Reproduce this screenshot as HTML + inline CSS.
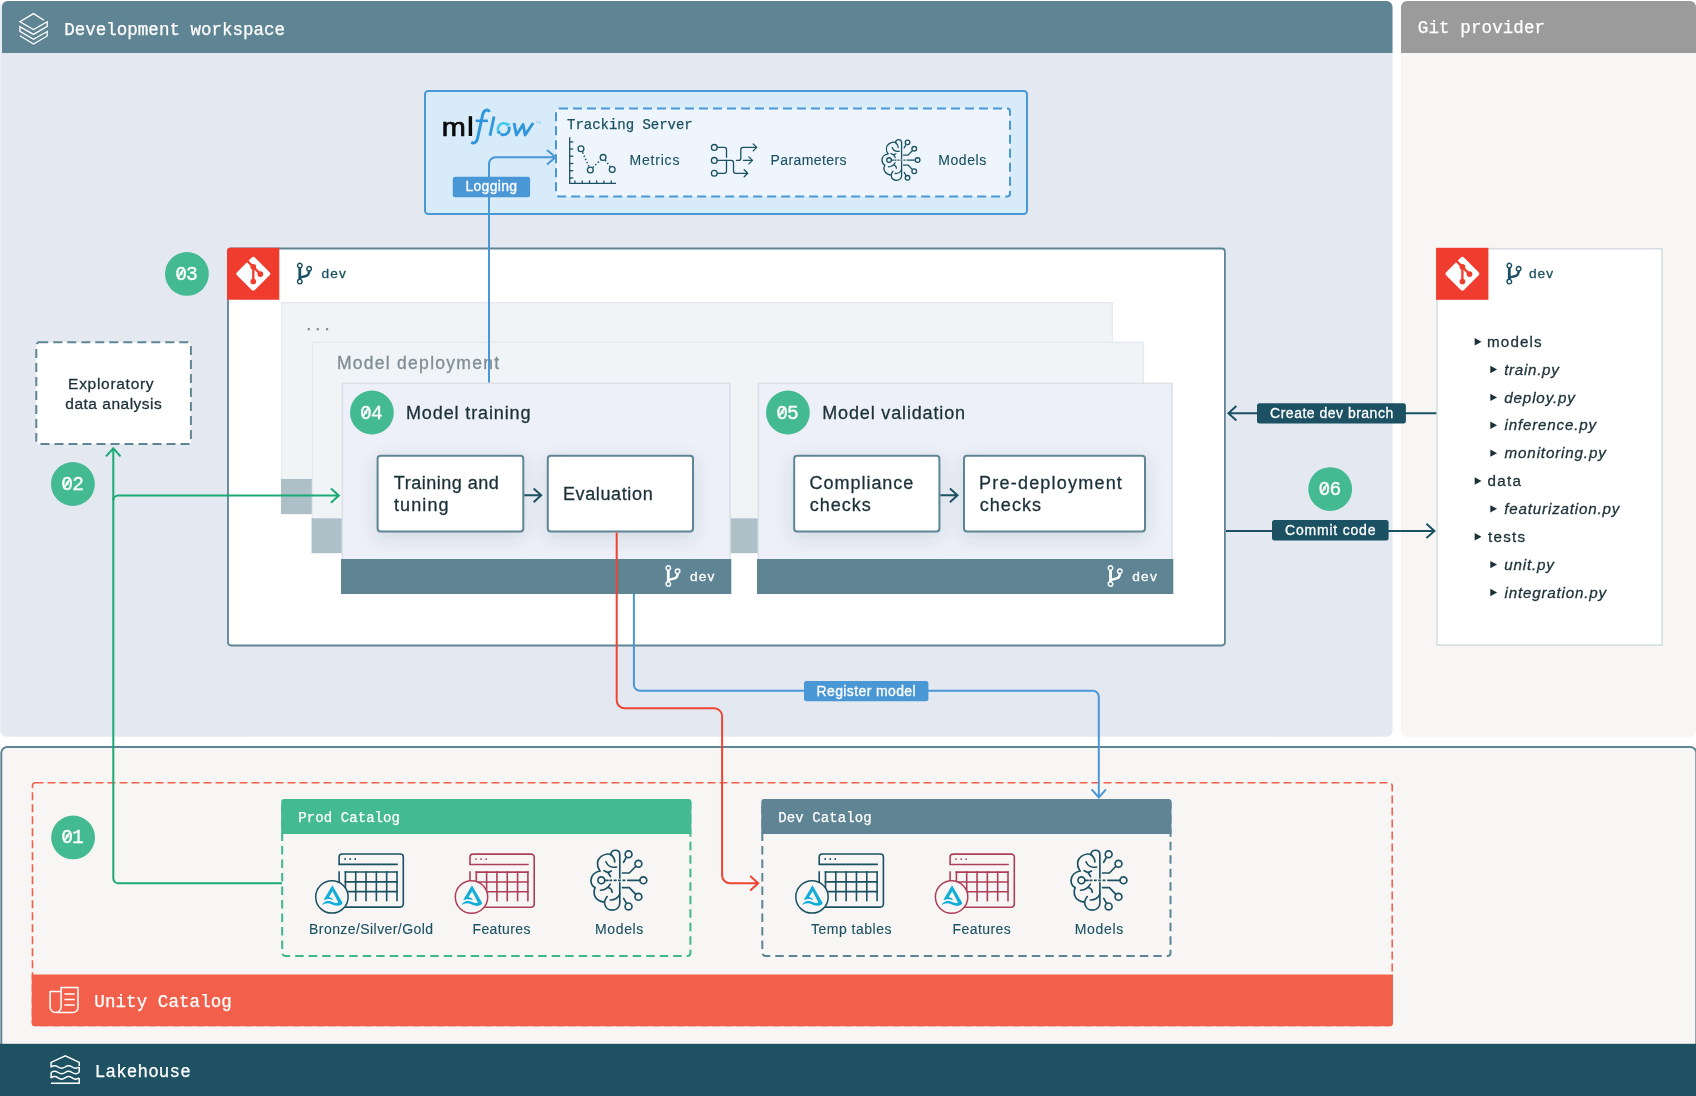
<!DOCTYPE html>
<html><head><meta charset="utf-8"><title>Dev workspace diagram</title>
<style>
html,body{margin:0;padding:0;background:#fff;}
body{width:1696px;height:1096px;overflow:hidden;font-family:"Liberation Sans",sans-serif;}
svg{display:block;will-change:transform;transform:translateZ(0)}
text{white-space:pre}
</style></head><body>
<svg width="1696" height="1096" viewBox="0 0 1696 1096">
<rect x="0.3" y="1" width="1392.2" height="735.7" rx="6" fill="#e4e8f1"/>
<path d="M2 53V7a6 6 0 0 1 6-6H1386.5a6 6 0 0 1 6 6V53Z" fill="#5f8595"/>
<rect x="1401" y="1" width="295" height="736" rx="6" fill="#f7f6f4"/>
<path d="M1401 53V7a6 6 0 0 1 6-6H1690a6 6 0 0 1 6 6V53Z" fill="#9b9b9b"/>
<rect x="1.3" y="747" width="1695" height="360" rx="6" fill="#f7f6f4" stroke="#5f8595" stroke-width="2"/>
<rect x="0" y="1043.8" width="1696" height="53" fill="#1e5262"/>
<path d="M43.9 20.2 33.5 13.6 19.9 21.8 33.5 29.6 47.2 21.8V26.4L33.5 34.4 19.9 26.6V31.3L33.5 39.3 47.2 31.5V36L33.5 44 19.9 35.8" fill="none" stroke="#fff" stroke-width="1.3" stroke-linejoin="miter"/>
<text x="64.20" y="34.90" font-family='"Liberation Mono", monospace' font-size="17.5" fill="#fff" letter-spacing="0.020" stroke="#fff" stroke-width="0.25">Development workspace</text>
<text x="1417.80" y="33.20" font-family='"Liberation Mono", monospace' font-size="17.5" fill="#fff" letter-spacing="0.118" stroke="#fff" stroke-width="0.25">Git provider</text>
<rect x="425" y="91" width="602" height="123" rx="3.2" fill="#d7ebf8" stroke="#4a97d6" stroke-width="2"/>
<rect x="556" y="108.4" width="454" height="88" rx="3" fill="#eef5fd" stroke="#4a97d6" stroke-width="2" stroke-dasharray="9 5"/>
<text x="567.00" y="129.40" font-family='"Liberation Mono", monospace' font-size="14" fill="#1b5162" letter-spacing="-0.021" stroke="#1b5162" stroke-width="0.25">Tracking Server</text>
<text x="629.50" y="164.80" font-family='"Liberation Sans", sans-serif' font-size="14" fill="#1b5162" letter-spacing="0.800" stroke="#1b5162" stroke-width="0.12">Metrics</text>
<text x="770.60" y="164.90" font-family='"Liberation Sans", sans-serif' font-size="14" fill="#1b5162" letter-spacing="0.389" stroke="#1b5162" stroke-width="0.12">Parameters</text>
<text x="938.30" y="164.90" font-family='"Liberation Sans", sans-serif' font-size="14" fill="#1b5162" letter-spacing="0.560" stroke="#1b5162" stroke-width="0.12">Models</text>
<g transform="translate(443.7 136) scale(1.12 1)"><text x="-1.70" y="0.00" font-family='"Liberation Sans", sans-serif' font-size="25.8" fill="#0b0b0b" stroke="#0b0b0b" stroke-width="0.7">m</text>
</g><rect x="468.7" y="116.2" width="3.4" height="19.8" fill="#0b0b0b"/>
<g transform="translate(430 100) scale(0.091266)" fill="none" stroke="#2f96dc" stroke-linecap="butt" stroke-linejoin="miter"><path d="M652 130C640 100 590 102 577 160L521 420C511 468 482 480 452 462" stroke-width="32"/><path d="M500 228H635" stroke-width="28"/><path d="M702 180L657 392" stroke-width="31"/><path d="M921 252L947 383L1020 268L1042 383L1130 252" stroke-width="31" stroke-linejoin="round"/><path d="M760 362A63 63 0 0 1 850 274" stroke="#43c9ed" stroke-width="30"/><path d="M862 292A63 63 0 0 1 775 373" stroke="#2f96dc" stroke-width="30"/></g>
<g fill="#43c9ed"><path d="M506.5 122.5l4.2 1.6-3.6 2.6z"/></g><g fill="#2f96dc"><path d="M500.6 134.6l-4-1.8 3.6-2.4z"/></g>
<text x="535.6" y="124.3" font-family='"Liberation Sans", sans-serif' font-size="3.6" fill="#7fc4ee">TM</text>
<g fill="none" stroke="#1b5162" stroke-width="1.3" stroke-linecap="butt"><path d="M569.7 137.2V183.4H616.1"/><path d="M569.7 141.9h3.6"/><path d="M569.7 149h3.6"/><path d="M569.7 156.2h3.6"/><path d="M569.7 163.5h3.6"/><path d="M569.7 170.7h3.6"/><path d="M569.7 178h3.6"/><path d="M574.9 183.4v-3"/><path d="M582.2 183.4v-3"/><path d="M589.5 183.4v-3"/><path d="M596.6 183.4v-3"/><path d="M603.9 183.4v-3"/><path d="M611.2 183.4v-3"/><circle cx="581" cy="148.7" r="2.9"/><circle cx="590.3" cy="170" r="2.9"/><circle cx="603.1" cy="157.4" r="2.9"/><circle cx="612.2" cy="169.6" r="2.9"/><path d="M582.6 152.4L588.8 166.4M592.8 167.5L600.6 159.9M605.2 160.2L610.3 166.8" stroke-dasharray="1.4 2.1" stroke-width="1.5"/></g>
<g fill="none" stroke="#1b5162" stroke-width="1.3" stroke-linecap="round" stroke-linejoin="round"><circle cx="714.3" cy="147.4" r="2.9"/><circle cx="714.3" cy="160.4" r="2.9"/><circle cx="714.3" cy="173.3" r="2.9"/><path d="M717.4 147.4H724.3a2.2 2.2 0 0 1 2.2 2.2V157.3"/><path d="M717.4 173.3H724.3a2.2 2.2 0 0 0 2.2-2.2V160.4"/><path d="M717.4 160.4H731.3a2.2 2.2 0 0 1 2.2 2.2V171.1a2.2 2.2 0 0 0 2.2 2.2H747.4"/><path d="M736.4 160.4H738.6a2.2 2.2 0 0 0 2.2-2.2V149.6a2.2 2.2 0 0 1 2.2-2.2H756.5"/><path d="M743.5 160.4H752.2"/><path d="M753.2 143.9L756.7 147.4L753.2 150.9M748.9 156.9L752.4 160.4L748.9 163.9M744.2 169.8L747.7 173.3L744.2 176.8"/></g>
<g transform="translate(874.56 132.70) scale(0.04960)" stroke="#1b5162"><g fill="none" stroke-width="26" stroke-linecap="round" stroke-linejoin="round">
<path d="M545 520V200C545 160 520 140 485 140C450 140 425 165 420 200"/>
<path d="M432 205C400 188 340 190 290 225C235 265 218 340 270 420"/>
<path d="M275 425C200 435 150 490 150 555C150 600 175 635 205 652"/>
<path d="M205 656C175 720 195 790 260 830C285 845 310 852 335 852"/>
<path d="M335 856C340 920 385 960 445 960C505 960 545 915 545 865V585"/>
<path d="M432 208C460 235 478 265 476 300"/>
<path d="M355 298C375 350 430 385 500 370"/>
<path d="M330 420L385 447L418 500M385 447L430 425"/>
<circle cx="292" cy="552" r="47"/>
<path d="M340 552H384"/>
<path d="M402 552H632" stroke-dasharray="40 20" stroke-linecap="butt"/>
<path d="M654 552H820"/>
<circle cx="868" cy="552" r="47"/>
<path d="M280 688C330 685 385 660 415 605M395 655C425 665 440 690 440 715"/>
<path d="M415 822C470 825 530 790 545 740"/>
<path d="M372 775C355 795 345 815 338 840"/>
<circle cx="665" cy="195" r="47"/><path d="M634 238L597 305"/>
<circle cx="800" cy="325" r="47"/><path d="M765 360L675 452H582"/>
<circle cx="800" cy="778" r="47"/><path d="M765 744L675 652H582"/>
<circle cx="665" cy="910" r="47"/><path d="M636 868L598 800"/>
</g></g>
<defs><filter id="sh" x="-30%" y="-50%" width="160%" height="220%"><feDropShadow dx="0" dy="5" stdDeviation="9" flood-color="#2a3a44" flood-opacity="0.14"/></filter></defs>
<rect x="228" y="248.5" width="996.9" height="397" rx="3.2" fill="#fff" stroke="#5f8595" stroke-width="1.8"/>
<path d="M227 299.8V250.8a3 3 0 0 1 3-3H279.3V299.8Z" fill="#f03c2e"/><g transform="translate(253.3 273.8)"><rect x="-12.6" y="-12.6" width="25.2" height="25.2" rx="2.2" transform="rotate(45)" fill="#fff"/><g stroke="#f03c2e" stroke-width="2.3" fill="#f03c2e" stroke-linecap="butt"><path d="M-6.4 -13.2L7.1 0.3" fill="none"/><path d="M0 -7V7.7" fill="none"/><circle cx="0" cy="-7" r="1.7"/><circle cx="7.1" cy="0.3" r="1.7"/><circle cx="0" cy="7.7" r="1.7"/></g></g>
<g transform="translate(299.8 265.6)" fill="none" stroke="#1b5162" stroke-linecap="round"><path d="M0 2.2V13.8" stroke-width="2.8"/><path d="M9.5 5.6C9.2 8.6 8.4 9.9 6.2 10.4L0.8 11.8" stroke-width="2.4" stroke-linejoin="round"/><circle cx="0" cy="0" r="2.27" stroke-width="1.45" fill="#fff"/><circle cx="9.3" cy="3.2" r="2.27" stroke-width="1.45" fill="#fff"/><circle cx="0" cy="16" r="2.27" stroke-width="1.45" fill="#fff"/></g>
<text x="321.50" y="278.30" font-family='"Liberation Sans", sans-serif' font-size="13.7" fill="#1b5162" letter-spacing="1.100" stroke="#1b5162" stroke-width="0.3">dev</text>
<rect x="281.7" y="302.7" width="830.6" height="211" fill="#f0f4f7" stroke="#e6e9ed" stroke-width="1.5"/>
<rect x="281" y="479" width="832" height="35" fill="#adc0c8"/>
<text x="307.00" y="330.20" font-family='"Liberation Sans", sans-serif' font-size="13" fill="#7f8d95" font-weight="bold" letter-spacing="5.500" stroke="#7f8d95" stroke-width="0.3">...</text>
<rect x="312.5" y="342.4" width="830.9" height="210.5" fill="#f0f4f7" stroke="#e6e9ed" stroke-width="1.5"/>
<rect x="311.6" y="518.3" width="832.5" height="34.7" fill="#adc0c8"/>
<text x="336.90" y="369.00" font-family='"Liberation Sans", sans-serif' font-size="17.5" fill="#7f8d95" letter-spacing="1.280" stroke="#7f8d95" stroke-width="0.3">Model deployment</text>
<rect x="342.3" y="383.4" width="387.7" height="180" fill="#edf0f8" stroke="#dde1e7" stroke-width="1.6"/>
<rect x="341.0" y="559" width="390.3" height="35" fill="#5f8595"/>
<rect x="758.3" y="383.4" width="413.7" height="180" fill="#edf0f8" stroke="#dde1e7" stroke-width="1.6"/>
<rect x="757.0" y="559" width="416.3" height="35" fill="#5f8595"/>
<path d="M489 382.4V163.8a6.5 6.5 0 0 1 6.5-6.5H555.4M547.00 150.00L555.60 157.30L547.00 164.60" fill="none" stroke="#4a97d6" stroke-width="2"/>
<rect x="452.8" y="176.7" width="77.3" height="20.5" rx="2.5" fill="#4a97d6"/>
<text x="465.40" y="191.30" font-family='"Liberation Sans", sans-serif' font-size="14" fill="#fff" letter-spacing="0.317" stroke="#fff" stroke-width="0.3">Logging</text>
<circle cx="371.9" cy="412.5" r="21.9" fill="#43ba91"/>
<text x="360.10" y="418.50" font-family='"Liberation Mono", monospace' font-size="19.6" fill="#fff" letter-spacing="-0.900" stroke="#fff" stroke-width="0.3">04</text>
<path d="M363.70 415.20L367.90 408.50" stroke="#fff" stroke-width="1.7" stroke-linecap="round"/>
<circle cx="787.9" cy="412.5" r="21.9" fill="#43ba91"/>
<text x="776.20" y="418.50" font-family='"Liberation Mono", monospace' font-size="19.6" fill="#fff" letter-spacing="-0.900" stroke="#fff" stroke-width="0.3">05</text>
<path d="M779.80 415.20L784.00 408.50" stroke="#fff" stroke-width="1.7" stroke-linecap="round"/>
<text x="406.00" y="419.10" font-family='"Liberation Sans", sans-serif' font-size="18" fill="#1b3139" letter-spacing="0.877" stroke="#1b3139" stroke-width="0.3">Model training</text>
<text x="822.20" y="419.30" font-family='"Liberation Sans", sans-serif' font-size="18" fill="#1b3139" letter-spacing="0.853" stroke="#1b3139" stroke-width="0.3">Model validation</text>
<rect x="377.6" y="455.7" width="145.7" height="75.8" rx="3" fill="#fff" stroke="#5f8595" stroke-width="2" filter="url(#sh)"/>
<rect x="547.8" y="455.7" width="145.2" height="75.8" rx="3" fill="#fff" stroke="#5f8595" stroke-width="2" filter="url(#sh)"/>
<rect x="794.2" y="455.7" width="145.2" height="75.8" rx="3" fill="#fff" stroke="#5f8595" stroke-width="2" filter="url(#sh)"/>
<rect x="964" y="455.7" width="181.0" height="75.8" rx="3" fill="#fff" stroke="#5f8595" stroke-width="2" filter="url(#sh)"/>
<path d="M524.3 495.3H541.0M533.60 488.40L541.20 495.30L533.60 502.20" fill="none" stroke="#1b5162" stroke-width="2" stroke-linejoin="miter"/>
<path d="M940.4 495.3H957.3M949.90 488.40L957.50 495.30L949.90 502.20" fill="none" stroke="#1b5162" stroke-width="2" stroke-linejoin="miter"/>
<text x="393.80" y="488.70" font-family='"Liberation Sans", sans-serif' font-size="18" fill="#1b3139" letter-spacing="0.509" stroke="#1b3139" stroke-width="0.3">Training and</text>
<text x="394.00" y="510.80" font-family='"Liberation Sans", sans-serif' font-size="18" fill="#1b3139" letter-spacing="1.100" stroke="#1b3139" stroke-width="0.3">tuning</text>
<text x="562.90" y="499.80" font-family='"Liberation Sans", sans-serif' font-size="18" fill="#1b3139" letter-spacing="0.633" stroke="#1b3139" stroke-width="0.3">Evaluation</text>
<text x="809.50" y="488.60" font-family='"Liberation Sans", sans-serif' font-size="18" fill="#1b3139" letter-spacing="0.978" stroke="#1b3139" stroke-width="0.3">Compliance</text>
<text x="809.70" y="510.70" font-family='"Liberation Sans", sans-serif' font-size="18" fill="#1b3139" letter-spacing="1.020" stroke="#1b3139" stroke-width="0.3">checks</text>
<text x="979.10" y="488.90" font-family='"Liberation Sans", sans-serif' font-size="18" fill="#1b3139" letter-spacing="1.208" stroke="#1b3139" stroke-width="0.3">Pre-deployment</text>
<text x="979.80" y="511.00" font-family='"Liberation Sans", sans-serif' font-size="18" fill="#1b3139" letter-spacing="1.020" stroke="#1b3139" stroke-width="0.3">checks</text>
<g transform="translate(668.3 568)" fill="none" stroke="#fff" stroke-linecap="round"><path d="M0 2.2V13.8" stroke-width="2.8"/><path d="M9.5 5.6C9.2 8.6 8.4 9.9 6.2 10.4L0.8 11.8" stroke-width="2.4" stroke-linejoin="round"/><circle cx="0" cy="0" r="2.27" stroke-width="1.45" fill="#5f8595"/><circle cx="9.3" cy="3.2" r="2.27" stroke-width="1.45" fill="#5f8595"/><circle cx="0" cy="16" r="2.27" stroke-width="1.45" fill="#5f8595"/></g>
<text x="689.90" y="580.70" font-family='"Liberation Sans", sans-serif' font-size="13.7" fill="#fff" letter-spacing="1.200" stroke="#fff" stroke-width="0.3">dev</text>
<g transform="translate(1110.5 568)" fill="none" stroke="#fff" stroke-linecap="round"><path d="M0 2.2V13.8" stroke-width="2.8"/><path d="M9.5 5.6C9.2 8.6 8.4 9.9 6.2 10.4L0.8 11.8" stroke-width="2.4" stroke-linejoin="round"/><circle cx="0" cy="0" r="2.27" stroke-width="1.45" fill="#5f8595"/><circle cx="9.3" cy="3.2" r="2.27" stroke-width="1.45" fill="#5f8595"/><circle cx="0" cy="16" r="2.27" stroke-width="1.45" fill="#5f8595"/></g>
<text x="1132.20" y="580.70" font-family='"Liberation Sans", sans-serif' font-size="13.7" fill="#fff" letter-spacing="1.300" stroke="#fff" stroke-width="0.3">dev</text>
<rect x="36.3" y="342.3" width="154.6" height="101.8" rx="3" fill="#fff" stroke="#5f8595" stroke-width="2" stroke-dasharray="9 5"/>
<text x="68.10" y="388.70" font-family='"Liberation Sans", sans-serif' font-size="15.5" fill="#1b3139" letter-spacing="0.710" stroke="#1b3139" stroke-width="0.3">Exploratory</text>
<text x="65.30" y="408.70" font-family='"Liberation Sans", sans-serif' font-size="15.5" fill="#1b3139" letter-spacing="0.500" stroke="#1b3139" stroke-width="0.3">data analysis</text>
<circle cx="72.9" cy="484" r="21.9" fill="#43ba91"/>
<text x="61.30" y="490.00" font-family='"Liberation Mono", monospace' font-size="19.6" fill="#fff" letter-spacing="-0.900" stroke="#fff" stroke-width="0.3">02</text>
<path d="M64.90 486.70L69.10 480.00" stroke="#fff" stroke-width="1.7" stroke-linecap="round"/>
<circle cx="186.9" cy="273.9" r="21.9" fill="#43ba91"/>
<text x="175.20" y="279.90" font-family='"Liberation Mono", monospace' font-size="19.6" fill="#fff" letter-spacing="-0.900" stroke="#fff" stroke-width="0.3">03</text>
<path d="M178.80 276.60L183.00 269.90" stroke="#fff" stroke-width="1.7" stroke-linecap="round"/>
<circle cx="1330.2" cy="489.1" r="21.9" fill="#43ba91"/>
<text x="1318.55" y="495.10" font-family='"Liberation Mono", monospace' font-size="19.6" fill="#fff" letter-spacing="-0.900" stroke="#fff" stroke-width="0.3">06</text>
<path d="M1322.15 491.80L1326.35 485.10" stroke="#fff" stroke-width="1.7" stroke-linecap="round"/>
<rect x="1437" y="248.7" width="225" height="396.4" fill="#fff" stroke="#d3dbe0" stroke-width="1.5"/>
<rect x="1436.1" y="247.8" width="52.3" height="52" fill="#f03c2e"/><g transform="translate(1462.3999999999999 273.8)"><rect x="-12.6" y="-12.6" width="25.2" height="25.2" rx="2.2" transform="rotate(45)" fill="#fff"/><g stroke="#f03c2e" stroke-width="2.3" fill="#f03c2e" stroke-linecap="butt"><path d="M-6.4 -13.2L7.1 0.3" fill="none"/><path d="M0 -7V7.7" fill="none"/><circle cx="0" cy="-7" r="1.7"/><circle cx="7.1" cy="0.3" r="1.7"/><circle cx="0" cy="7.7" r="1.7"/></g></g>
<g transform="translate(1509.3 265.6)" fill="none" stroke="#1b5162" stroke-linecap="round"><path d="M0 2.2V13.8" stroke-width="2.8"/><path d="M9.5 5.6C9.2 8.6 8.4 9.9 6.2 10.4L0.8 11.8" stroke-width="2.4" stroke-linejoin="round"/><circle cx="0" cy="0" r="2.27" stroke-width="1.45" fill="#fff"/><circle cx="9.3" cy="3.2" r="2.27" stroke-width="1.45" fill="#fff"/><circle cx="0" cy="16" r="2.27" stroke-width="1.45" fill="#fff"/></g>
<text x="1528.90" y="278.00" font-family='"Liberation Sans", sans-serif' font-size="13.7" fill="#1b5162" letter-spacing="1.100" stroke="#1b5162" stroke-width="0.3">dev</text>
<path d="M1474.7 338.0L1481.5 341.7L1474.7 345.4Z" fill="#1b3139"/>
<text x="1487.10" y="346.80" font-family='"Liberation Sans", sans-serif' font-size="15.2" fill="#1b3139" letter-spacing="1.120" stroke="#1b3139" stroke-width="0.3">models</text>
<path d="M1490.3 365.86L1497.1 369.56L1490.3 373.26Z" fill="#1b3139"/>
<text x="1504.20" y="374.76" font-family='"Liberation Sans", sans-serif' font-size="15.2" fill="#1b3139" font-style="italic" letter-spacing="0.686" stroke="#1b3139" stroke-width="0.3">train.py</text>
<path d="M1490.3 393.71999999999997L1497.1 397.41999999999996L1490.3 401.11999999999995Z" fill="#1b3139"/>
<text x="1504.30" y="402.62" font-family='"Liberation Sans", sans-serif' font-size="15.2" fill="#1b3139" font-style="italic" letter-spacing="0.838" stroke="#1b3139" stroke-width="0.3">deploy.py</text>
<path d="M1490.3 421.58L1497.1 425.28L1490.3 428.97999999999996Z" fill="#1b3139"/>
<text x="1504.60" y="430.48" font-family='"Liberation Sans", sans-serif' font-size="15.2" fill="#1b3139" font-style="italic" letter-spacing="0.791" stroke="#1b3139" stroke-width="0.3">inference.py</text>
<path d="M1490.3 449.44L1497.1 453.14L1490.3 456.84Z" fill="#1b3139"/>
<text x="1504.60" y="458.34" font-family='"Liberation Sans", sans-serif' font-size="15.2" fill="#1b3139" font-style="italic" letter-spacing="0.833" stroke="#1b3139" stroke-width="0.3">monitoring.py</text>
<path d="M1474.7 477.3L1481.5 481.0L1474.7 484.7Z" fill="#1b3139"/>
<text x="1487.50" y="486.10" font-family='"Liberation Sans", sans-serif' font-size="15.2" fill="#1b3139" letter-spacing="1.267" stroke="#1b3139" stroke-width="0.3">data</text>
<path d="M1490.3 505.16L1497.1 508.86L1490.3 512.5600000000001Z" fill="#1b3139"/>
<text x="1504.30" y="514.06" font-family='"Liberation Sans", sans-serif' font-size="15.2" fill="#1b3139" font-style="italic" letter-spacing="0.807" stroke="#1b3139" stroke-width="0.3">featurization.py</text>
<path d="M1474.7 533.0199999999999L1481.5 536.7199999999999L1474.7 540.42Z" fill="#1b3139"/>
<text x="1487.90" y="541.82" font-family='"Liberation Sans", sans-serif' font-size="15.2" fill="#1b3139" letter-spacing="1.300" stroke="#1b3139" stroke-width="0.3">tests</text>
<path d="M1490.3 560.88L1497.1 564.58L1490.3 568.2800000000001Z" fill="#1b3139"/>
<text x="1504.20" y="569.78" font-family='"Liberation Sans", sans-serif' font-size="15.2" fill="#1b3139" font-style="italic" letter-spacing="0.833" stroke="#1b3139" stroke-width="0.3">unit.py</text>
<path d="M1490.3 588.7399999999999L1497.1 592.4399999999999L1490.3 596.14Z" fill="#1b3139"/>
<text x="1504.60" y="597.64" font-family='"Liberation Sans", sans-serif' font-size="15.2" fill="#1b3139" font-style="italic" letter-spacing="0.792" stroke="#1b3139" stroke-width="0.3">integration.py</text>
<path d="M1436.3 413.3H1228.6M1236.40 406.10L1228.40 413.30L1236.40 420.50" fill="none" stroke="#1b5162" stroke-width="2"/>
<rect x="1257" y="403.2" width="148.9" height="20.4" rx="2.5" fill="#1b5162"/>
<text x="1270.10" y="417.80" font-family='"Liberation Sans", sans-serif' font-size="14" fill="#fff" letter-spacing="0.494" stroke="#fff" stroke-width="0.3">Create dev branch</text>
<path d="M1226 530.9H1434.2M1426.40 523.70L1434.40 530.90L1426.40 538.10" fill="none" stroke="#1b5162" stroke-width="2"/>
<rect x="1272" y="520.1" width="116.6" height="20.5" rx="2.5" fill="#1b5162"/>
<text x="1285.00" y="534.80" font-family='"Liberation Sans", sans-serif' font-size="14" fill="#fff" letter-spacing="0.800" stroke="#fff" stroke-width="0.3">Commit code</text>
<rect x="32.5" y="782.8" width="1359.7" height="242.6" rx="3" fill="none" stroke="#f2604c" stroke-width="1.6" stroke-dasharray="8 4"/>
<path d="M31.7 974.4H1393V1023.3a3 3 0 0 1-3 3H34.7a3 3 0 0 1-3-3Z" fill="#f2604c"/>
<g fill="none" stroke="#fff" stroke-width="1.5" stroke-linejoin="round"><path d="M61.1 991.4H50.1V1007.1a5.5 5.5 0 0 0 11 0V987.5H78V1007.5a5 5 0 0 1-5 5H57"/><path d="M64.4 994H74.8M64.4 999.6H74.8M64.4 1005H74.8"/></g>
<text x="94.30" y="1006.60" font-family='"Liberation Mono", monospace' font-size="17.5" fill="#fff" letter-spacing="0.083" stroke="#fff" stroke-width="0.25">Unity Catalog</text>
<g fill="none" stroke="#fff" stroke-width="1.5" stroke-linejoin="miter" stroke-linecap="butt"><path d="M51.1 1067.6V1062.4L65.3 1055.9L79.3 1062.4V1066"/><path d="M51.1 1067q3.5-2.6 7 0t7 0t7 0t7 0"/><path d="M51.1 1072.5q3.5-2.6 7 0t7 0t7 0t7 0"/><path d="M51.1 1077.9q3.5-2.6 7 0t7 0t7 0t7 0"/><path d="M51.1 1072.5V1077.9M79.2 1067V1072.5M79.2 1077.9V1083.3H51"/></g>
<text x="94.80" y="1076.60" font-family='"Liberation Mono", monospace' font-size="17.5" fill="#fff" letter-spacing="0.175" stroke="#fff" stroke-width="0.25">Lakehouse</text>
<circle cx="73.1" cy="837.4" r="21.9" fill="#43ba91"/>
<text x="61.25" y="843.40" font-family='"Liberation Mono", monospace' font-size="19.6" fill="#fff" letter-spacing="-0.900" stroke="#fff" stroke-width="0.3">01</text>
<path d="M64.85 840.10L69.05 833.40" stroke="#fff" stroke-width="1.7" stroke-linecap="round"/>
<rect x="282.2" y="800" width="408.2" height="155.9" rx="3" fill="none" stroke="#3db88c" stroke-width="2" stroke-dasharray="8.5 5"/>
<path d="M281.2 834V801.9a3 3 0 0 1 3-3H688.4a3 3 0 0 1 3 3V834Z" fill="#43ba91"/>
<text x="298.20" y="822.30" font-family='"Liberation Mono", monospace' font-size="14" fill="#fff" letter-spacing="0.091" stroke="#fff" stroke-width="0.25">Prod Catalog</text>
<g transform="translate(331.9 896.9)" fill="none" stroke="#1b5162" stroke-width="1.6" stroke-linecap="butt"><path d="M-0.7999999999999998 10.2H68.4a3 3 0 0 0 3-3V-39.9a3 3 0 0 0-3-3H10.2a3 3 0 0 0-3 3V-32.5H65.89999999999999"/><path d="M7.2 -25.7V-14"/><circle cx="13.20" cy="-37.9" r="0.95" fill="#1b5162" stroke="none"/><circle cx="18.25" cy="-37.9" r="0.95" fill="#1b5162" stroke="none"/><circle cx="23.30" cy="-37.9" r="0.95" fill="#1b5162" stroke="none"/><path d="M13.50 -25.7V4.4"/><path d="M23.82 -25.7V4.4"/><path d="M34.14 -25.7V4.4"/><path d="M44.46 -25.7V4.4"/><path d="M54.78 -25.7V4.4"/><path d="M65.10 -25.7V4.4"/><path d="M12.70 -24.9H65.90"/><path d="M12.70 -15H65.90"/><path d="M12.70 -5.3H65.90"/><circle cx="0" cy="0" r="16.2" fill="#f7f6f4" stroke-width="1.5"/><path transform="translate(-20 -20.8) scale(0.036496)" d="M560 250L838 728C845 775 790 805 700 815C620 815 560 765 450 742C380 738 320 765 278 792C300 735 350 695 420 682C490 675 545 695 600 722C650 745 700 738 722 722L565 415L467 572C520 588 560 610 588 645C540 650 480 622 405 632C375 637 350 655 325 648Z" fill="#12add9" stroke="none"/></g>
<g transform="translate(471.5 897)" fill="none" stroke="#ae3f58" stroke-width="1.6" stroke-linecap="butt"><path d="M-9.5 10.2H59.7a3 3 0 0 0 3-3V-39.9a3 3 0 0 0-3-3H1.5a3 3 0 0 0-3 3V-32.5H57.199999999999996"/><path d="M-1.5 -25.7V-14"/><circle cx="4.50" cy="-37.9" r="0.95" fill="#ae3f58" stroke="none"/><circle cx="9.55" cy="-37.9" r="0.95" fill="#ae3f58" stroke="none"/><circle cx="14.60" cy="-37.9" r="0.95" fill="#ae3f58" stroke="none"/><path d="M4.80 -25.7V4.4"/><path d="M15.12 -25.7V4.4"/><path d="M25.44 -25.7V4.4"/><path d="M35.76 -25.7V4.4"/><path d="M46.08 -25.7V4.4"/><path d="M56.40 -25.7V4.4"/><path d="M4.00 -24.9H57.20"/><path d="M4.00 -15H57.20"/><path d="M4.00 -5.3H57.20"/><circle cx="0" cy="0" r="16.2" fill="#f7f6f4" stroke-width="1.5"/><path transform="translate(-20 -20.8) scale(0.036496)" d="M560 250L838 728C845 775 790 805 700 815C620 815 560 765 450 742C380 738 320 765 278 792C300 735 350 695 420 682C490 675 545 695 600 722C650 745 700 738 722 722L565 415L467 572C520 588 560 610 588 645C540 650 480 622 405 632C375 637 350 655 325 648Z" fill="#12add9" stroke="none"/></g>
<g transform="translate(580.00 840.00) scale(0.07299)" stroke="#1b5162"><g fill="none" stroke-width="23" stroke-linecap="round" stroke-linejoin="round">
<path d="M545 520V200C545 160 520 140 485 140C450 140 425 165 420 200"/>
<path d="M432 205C400 188 340 190 290 225C235 265 218 340 270 420"/>
<path d="M275 425C200 435 150 490 150 555C150 600 175 635 205 652"/>
<path d="M205 656C175 720 195 790 260 830C285 845 310 852 335 852"/>
<path d="M335 856C340 920 385 960 445 960C505 960 545 915 545 865V585"/>
<path d="M432 208C460 235 478 265 476 300"/>
<path d="M355 298C375 350 430 385 500 370"/>
<path d="M330 420L385 447L418 500M385 447L430 425"/>
<circle cx="292" cy="552" r="47"/>
<path d="M340 552H384"/>
<path d="M402 552H632" stroke-dasharray="40 20" stroke-linecap="butt"/>
<path d="M654 552H820"/>
<circle cx="868" cy="552" r="47"/>
<path d="M280 688C330 685 385 660 415 605M395 655C425 665 440 690 440 715"/>
<path d="M415 822C470 825 530 790 545 740"/>
<path d="M372 775C355 795 345 815 338 840"/>
<circle cx="665" cy="195" r="47"/><path d="M634 238L597 305"/>
<circle cx="800" cy="325" r="47"/><path d="M765 360L675 452H582"/>
<circle cx="800" cy="778" r="47"/><path d="M765 744L675 652H582"/>
<circle cx="665" cy="910" r="47"/><path d="M636 868L598 800"/>
</g></g>
<text x="309.10" y="933.50" font-family='"Liberation Sans", sans-serif' font-size="14" fill="#1b5162" letter-spacing="0.424" stroke="#1b5162" stroke-width="0.12">Bronze/Silver/Gold</text>
<text x="472.50" y="933.50" font-family='"Liberation Sans", sans-serif' font-size="14" fill="#1b5162" letter-spacing="0.386" stroke="#1b5162" stroke-width="0.12">Features</text>
<text x="595.00" y="933.50" font-family='"Liberation Sans", sans-serif' font-size="14" fill="#1b5162" letter-spacing="0.640" stroke="#1b5162" stroke-width="0.12">Models</text>
<rect x="762.3" y="800" width="408.2" height="155.9" rx="3" fill="none" stroke="#5f8595" stroke-width="2" stroke-dasharray="8.5 5"/>
<path d="M761.3 834V801.9a3 3 0 0 1 3-3H1168.5a3 3 0 0 1 3 3V834Z" fill="#5f8595"/>
<text x="778.30" y="822.30" font-family='"Liberation Mono", monospace' font-size="14" fill="#fff" letter-spacing="0.090" stroke="#fff" stroke-width="0.25">Dev Catalog</text>
<g transform="translate(812.0 896.9)" fill="none" stroke="#1b5162" stroke-width="1.6" stroke-linecap="butt"><path d="M-0.7999999999999998 10.2H68.4a3 3 0 0 0 3-3V-39.9a3 3 0 0 0-3-3H10.2a3 3 0 0 0-3 3V-32.5H65.89999999999999"/><path d="M7.2 -25.7V-14"/><circle cx="13.20" cy="-37.9" r="0.95" fill="#1b5162" stroke="none"/><circle cx="18.25" cy="-37.9" r="0.95" fill="#1b5162" stroke="none"/><circle cx="23.30" cy="-37.9" r="0.95" fill="#1b5162" stroke="none"/><path d="M13.50 -25.7V4.4"/><path d="M23.82 -25.7V4.4"/><path d="M34.14 -25.7V4.4"/><path d="M44.46 -25.7V4.4"/><path d="M54.78 -25.7V4.4"/><path d="M65.10 -25.7V4.4"/><path d="M12.70 -24.9H65.90"/><path d="M12.70 -15H65.90"/><path d="M12.70 -5.3H65.90"/><circle cx="0" cy="0" r="16.2" fill="#f7f6f4" stroke-width="1.5"/><path transform="translate(-20 -20.8) scale(0.036496)" d="M560 250L838 728C845 775 790 805 700 815C620 815 560 765 450 742C380 738 320 765 278 792C300 735 350 695 420 682C490 675 545 695 600 722C650 745 700 738 722 722L565 415L467 572C520 588 560 610 588 645C540 650 480 622 405 632C375 637 350 655 325 648Z" fill="#12add9" stroke="none"/></g>
<g transform="translate(951.5999999999999 897)" fill="none" stroke="#ae3f58" stroke-width="1.6" stroke-linecap="butt"><path d="M-9.5 10.2H59.7a3 3 0 0 0 3-3V-39.9a3 3 0 0 0-3-3H1.5a3 3 0 0 0-3 3V-32.5H57.199999999999996"/><path d="M-1.5 -25.7V-14"/><circle cx="4.50" cy="-37.9" r="0.95" fill="#ae3f58" stroke="none"/><circle cx="9.55" cy="-37.9" r="0.95" fill="#ae3f58" stroke="none"/><circle cx="14.60" cy="-37.9" r="0.95" fill="#ae3f58" stroke="none"/><path d="M4.80 -25.7V4.4"/><path d="M15.12 -25.7V4.4"/><path d="M25.44 -25.7V4.4"/><path d="M35.76 -25.7V4.4"/><path d="M46.08 -25.7V4.4"/><path d="M56.40 -25.7V4.4"/><path d="M4.00 -24.9H57.20"/><path d="M4.00 -15H57.20"/><path d="M4.00 -5.3H57.20"/><circle cx="0" cy="0" r="16.2" fill="#f7f6f4" stroke-width="1.5"/><path transform="translate(-20 -20.8) scale(0.036496)" d="M560 250L838 728C845 775 790 805 700 815C620 815 560 765 450 742C380 738 320 765 278 792C300 735 350 695 420 682C490 675 545 695 600 722C650 745 700 738 722 722L565 415L467 572C520 588 560 610 588 645C540 650 480 622 405 632C375 637 350 655 325 648Z" fill="#12add9" stroke="none"/></g>
<g transform="translate(1060.10 840.00) scale(0.07299)" stroke="#1b5162"><g fill="none" stroke-width="23" stroke-linecap="round" stroke-linejoin="round">
<path d="M545 520V200C545 160 520 140 485 140C450 140 425 165 420 200"/>
<path d="M432 205C400 188 340 190 290 225C235 265 218 340 270 420"/>
<path d="M275 425C200 435 150 490 150 555C150 600 175 635 205 652"/>
<path d="M205 656C175 720 195 790 260 830C285 845 310 852 335 852"/>
<path d="M335 856C340 920 385 960 445 960C505 960 545 915 545 865V585"/>
<path d="M432 208C460 235 478 265 476 300"/>
<path d="M355 298C375 350 430 385 500 370"/>
<path d="M330 420L385 447L418 500M385 447L430 425"/>
<circle cx="292" cy="552" r="47"/>
<path d="M340 552H384"/>
<path d="M402 552H632" stroke-dasharray="40 20" stroke-linecap="butt"/>
<path d="M654 552H820"/>
<circle cx="868" cy="552" r="47"/>
<path d="M280 688C330 685 385 660 415 605M395 655C425 665 440 690 440 715"/>
<path d="M415 822C470 825 530 790 545 740"/>
<path d="M372 775C355 795 345 815 338 840"/>
<circle cx="665" cy="195" r="47"/><path d="M634 238L597 305"/>
<circle cx="800" cy="325" r="47"/><path d="M765 360L675 452H582"/>
<circle cx="800" cy="778" r="47"/><path d="M765 744L675 652H582"/>
<circle cx="665" cy="910" r="47"/><path d="M636 868L598 800"/>
</g></g>
<text x="811.00" y="933.50" font-family='"Liberation Sans", sans-serif' font-size="14" fill="#1b5162" letter-spacing="0.500" stroke="#1b5162" stroke-width="0.12">Temp tables</text>
<text x="952.40" y="933.50" font-family='"Liberation Sans", sans-serif' font-size="14" fill="#1b5162" letter-spacing="0.457" stroke="#1b5162" stroke-width="0.12">Features</text>
<text x="1074.80" y="933.50" font-family='"Liberation Sans", sans-serif' font-size="14" fill="#1b5162" letter-spacing="0.640" stroke="#1b5162" stroke-width="0.12">Models</text>
<path d="M282 883.3H118.3a5 5 0 0 1-5-5V448.4M106.10 456.30L113.30 448.30L120.50 456.30" fill="none" stroke="#1aaa73" stroke-width="2"/>
<path d="M113.3 500.6a5 5 0 0 1 5-5H338.8M330.90 488.40L338.90 495.60L330.90 502.80" fill="none" stroke="#1aaa73" stroke-width="2"/>
<path d="M616.7 532.5V700.3a8 8 0 0 0 8 8H714.1a8 8 0 0 1 8 8V875.3a8 8 0 0 0 8 8H758M750.20 876.10L758.20 883.30L750.20 890.50" fill="none" stroke="#ee4433" stroke-width="2"/>
<path d="M633.9 594V684.8a6 6 0 0 0 6 6H1092.8a6 6 0 0 1 6 6V797.2M1091.60 789.40L1098.80 797.40L1106.00 789.40" fill="none" stroke="#4a97d6" stroke-width="2"/>
<rect x="804" y="680.9" width="124.4" height="20.4" rx="2.5" fill="#4a97d6"/>
<text x="816.50" y="695.50" font-family='"Liberation Sans", sans-serif' font-size="14" fill="#fff" letter-spacing="0.385" stroke="#fff" stroke-width="0.3">Register model</text>
</svg>
</body></html>
